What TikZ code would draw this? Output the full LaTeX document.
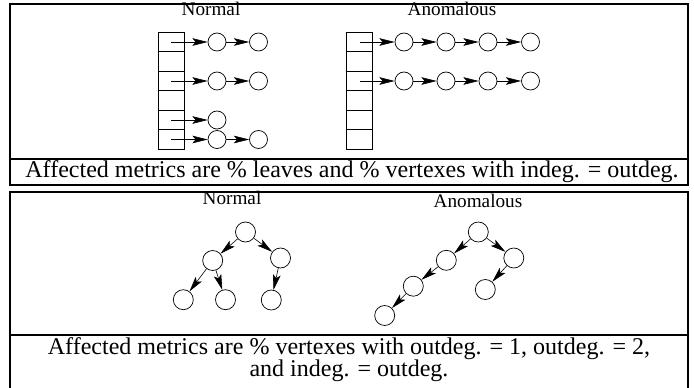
\documentclass[tikz,border=0pt]{standalone}
\usepackage{fontspec}
\setmainfont{Liberation Serif}
\usepackage{tikz}
\usetikzlibrary{arrows.meta}
\tikzset{
    listcell/.style={rectangle, draw, line width=0.6pt, minimum width=7.8mm, minimum height=5.85mm, inner sep=0pt},
    listnode/.style={circle, draw, line width=0.6pt, minimum size=5.4mm, inner sep=0pt},
    treenode/.style={circle, draw, line width=0.6pt, minimum size=6.0mm, inner sep=0pt},
    ptr/.style={-{Stealth[length=4.6mm,width=2.3mm,inset=1mm]}, line width=0.5pt},
    frame/.style={line width=1pt},
    paneltitle/.style={anchor=base, inner sep=0pt, font=\fontsize{16.4pt}{18pt}\selectfont},
    panelcaption/.style={inner sep=0pt, align=center, font=\fontsize{20.5pt}{18.8pt}\selectfont}
}
\begin{document}
\begin{tikzpicture}[x=0.3mm, y=-0.3mm]
    \useasboundingbox (0,0) rectangle (694,388);

    % Top panel: adjacency lists
    \node[paneltitle] (tnorm) at (211,16) {Normal};
    \node[paneltitle] (tanom) at (452,16) {Anomalous};
    \foreach \r in {1,...,6} {
        \node[listcell] (nt\r) at (171,22.5+19.5*\r) {};
        \node[listcell] (at\r) at (359.5,22.5+19.5*\r) {};
    }
    \node[listnode] (n1a) at (217,42) {};
    \node[listnode] (n1b) at (258.5,42) {};
    \node[listnode] (n3a) at (217,81) {};
    \node[listnode] (n3b) at (258.5,81) {};
    \node[listnode] (n5a) at (217,120) {};
    \node[listnode] (n6a) at (217,139.5) {};
    \node[listnode] (n6b) at (258.5,139.5) {};
    \foreach \r in {1,3} {
        \foreach \c [count=\i] in {404,446,488,530.5} {
            \node[listnode] (a\r\i) at (\c,22.5+19.5*\r) {};
        }
    }

    \draw[ptr] (nt1.center) -- (n1a);
    \draw[ptr] (n1a) -- (n1b);
    \draw[ptr] (nt3.center) -- (n3a);
    \draw[ptr] (n3a) -- (n3b);
    \draw[ptr] (nt5.center) -- (n5a);
    \draw[ptr] (nt6.center) -- (n6a);
    \draw[ptr] (n6a) -- (n6b);
    \foreach \r in {1,3} {
        \draw[ptr] (at\r.center) -- (a\r1);
        \draw[ptr] (a\r1) -- (a\r2);
        \draw[ptr] (a\r2) -- (a\r3);
        \draw[ptr] (a\r3) -- (a\r4);
    }

    \draw[frame] (10,4) rectangle (688,185);
    \draw[frame] (10,159) -- (688,159);
    \node[panelcaption, anchor=base] (cap1) at (352,177)
        {Affected metrics are \% leaves and \% vertexes with indeg. = outdeg.};

    % Bottom panel: trees
    \node[paneltitle] (bnorm) at (232,204) {Normal};
    \node[paneltitle] (banom) at (478,207) {Anomalous};

    \node[treenode] (r) at (245.5,232) {};
    \node[treenode] (rl) at (212.7,260.5) {};
    \node[treenode] (rr) at (280.5,258) {};
    \node[treenode] (rll) at (183.3,299.7) {};
    \node[treenode] (rlr) at (225.5,299.7) {};
    \node[treenode] (rrl) at (271.3,300) {};
    \draw[ptr] (r) -- (rl);
    \draw[ptr] (r) -- (rr);
    \draw[ptr] (rl) -- (rll);
    \draw[ptr] (rl) -- (rlr);
    \draw[ptr] (rr) -- (rrl);

    \node[treenode] (s) at (478.3,232) {};
    \node[treenode] (sl) at (446.3,260.3) {};
    \node[treenode] (sr) at (513.8,258) {};
    \node[treenode] (sll) at (413.3,286.2) {};
    \node[treenode] (slll) at (384.7,315.5) {};
    \node[treenode] (srl) at (485.3,289.5) {};
    \draw[ptr] (s) -- (sl);
    \draw[ptr] (s) -- (sr);
    \draw[ptr] (sl) -- (sll);
    \draw[ptr] (sll) -- (slll);
    \draw[ptr] (sr) -- (srl);

    \draw[frame] (10,395) -- (10,192) -- (688,192) -- (688,395);
    \draw[frame] (10,335) -- (688,335);
    \node[panelcaption, anchor=north] (cap2) at (349,337.5)
        {Affected metrics are \% vertexes with outdeg. = 1, outdeg. = 2,\\ and indeg. = outdeg.};
\end{tikzpicture}
\end{document}
